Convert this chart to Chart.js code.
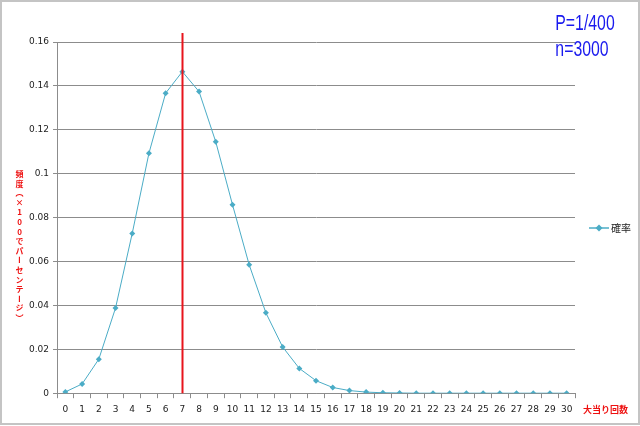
<!DOCTYPE html>
<html>
<head>
<meta charset="utf-8">
<script src="https://cdn.jsdelivr.net/npm/chart.js@4.4.1/dist/chart.umd.min.js"></script>
<style>
  html, body { margin: 0; padding: 0; background: #fff; }
  #wrap { width: 640px; height: 426px; position: relative; }
  #ytitle {
    position: absolute; left: 14px; top: 170px;
    writing-mode: vertical-rl; text-orientation: upright;
    font: bold 8px "Noto Sans CJK JP";
    color: #ee1111; letter-spacing: 1.6px; line-height: 10px;
  }
</style>
</head>
<body>
<div id="wrap"><canvas id="chart" width="640" height="426"></canvas><div id="ytitle"></div></div>
<script>
// Données
const categories = ['0','1','2','3','4','5','6','7','8','9','10','11','12','13','14','15',
  '16','17','18','19','20','21','22','23','24','25','26','27','28','29','30'];
const probValues = [0.0006, 0.0042, 0.0155, 0.0388, 0.0728, 0.1093, 0.1367, 0.1465,
  0.1374, 0.1145, 0.0859, 0.0585, 0.0366, 0.0211, 0.0113, 0.0057, 0.0026, 0.0012,
  0.0005, 0.0002, 0.0001, 0, 0, 0, 0, 0, 0, 0, 0, 0, 0];
const yTicks = [0, 0.02, 0.04, 0.06, 0.08, 0.1, 0.12, 0.14, 0.16];
const markerCategory = '7';
const seriesName = '確率';
const yTitle = '頻度（×100でパーセンテージ）';
const xTitle = '大当り回数';
const noteLines = ['P=1/400', 'n=3000'];

const lineColor = '#4bacc6';
const gridColor = '#8c8c8c';
const tickFont = { family: 'DejaVu Sans', size: 9 };

document.getElementById('ytitle').textContent = yTitle;

// Cadre, ligne rouge, titres et légende
const extras = {
  id: 'extras',
  beforeDraw(chart) {
    const c = chart.ctx;
    c.save();
    c.fillStyle = '#fff';
    c.fillRect(0, 0, chart.width, chart.height);
    c.strokeStyle = '#c4c4c4';
    c.lineWidth = 2;
    c.strokeRect(1, 1, chart.width - 2, chart.height - 3);
    c.restore();
  },
  afterDatasetsDraw(chart) {
    const c = chart.ctx;
    const xs = chart.scales.x;
    const area = chart.chartArea;
    c.save();
    // ligne verticale rouge
    const mx = Math.round(xs.getPixelForValue(categories.indexOf(markerCategory))) + 0.5;
    c.strokeStyle = '#e8141c';
    c.lineWidth = 2;
    c.beginPath();
    c.moveTo(mx, area.top - 9);
    c.lineTo(mx, area.bottom);
    c.stroke();
    c.restore();
  },
  afterDraw(chart) {
    const c = chart.ctx;
    const xs = chart.scales.x;
    const area = chart.chartArea;
    c.save();
    c.textBaseline = 'middle';
    // titre X
    c.fillStyle = '#ee1111';
    c.font = 'bold 9px "Noto Sans CJK JP"';
    c.textAlign = 'left';
    c.fillText(xTitle, xs.right + 8, area.bottom + 16);
    // note P / n (police étroite simulée)
    c.fillStyle = '#1a1aee';
    c.font = '22px "Liberation Sans"';
    c.textAlign = 'center';
    c.save();
    c.scale(0.72, 1);
    c.fillText(noteLines[0], 585 / 0.72, 24);
    c.fillText(noteLines[1], 582 / 0.72, 50);
    c.restore();
    // légende
    const ly = 228;
    c.strokeStyle = lineColor;
    c.lineWidth = 1.5;
    c.beginPath();
    c.moveTo(589, ly);
    c.lineTo(609, ly);
    c.stroke();
    c.fillStyle = lineColor;
    c.beginPath();
    c.moveTo(599, ly - 3.5);
    c.lineTo(602.5, ly);
    c.lineTo(599, ly + 3.5);
    c.lineTo(595.5, ly);
    c.closePath();
    c.fill();
    c.fillStyle = '#222';
    c.font = '10px "Noto Sans CJK JP"';
    c.textAlign = 'left';
    c.fillText(seriesName, 611, ly);
    c.restore();
  }
};

new Chart(document.getElementById('chart'), {
  type: 'line',
  data: {
    labels: categories,
    datasets: [{
      label: seriesName,
      data: probValues,
      borderColor: lineColor,
      backgroundColor: lineColor,
      borderWidth: 1,
      pointStyle: 'rectRot',
      pointRadius: 3,
      pointBorderWidth: 0,
      tension: 0
    }]
  },
  options: {
    responsive: false,
    animation: false,
    layout: { padding: { left: 25, right: 65, top: 42, bottom: 5 } },
    plugins: {
      legend: { display: false },
      tooltip: { enabled: false }
    },
    scales: {
      x: {
        offset: true,
        grid: { offset: true, drawOnChartArea: false, color: gridColor, tickLength: 5 },
        border: { color: gridColor },
        ticks: { font: tickFont, color: '#222', maxRotation: 0, autoSkip: false, padding: 6 }
      },
      y: {
        min: yTicks[0],
        max: yTicks[yTicks.length - 1],
        afterBuildTicks(scale) {
          scale.ticks = yTicks.map(v => ({ value: v }));
        },
        grid: { color: gridColor, tickLength: 4 },
        border: { color: gridColor },
        ticks: {
          font: tickFont,
          color: '#222',
          padding: 4,
          callback: v => String(+v.toFixed(2))
        }
      }
    }
  },
  plugins: [extras]
});
</script>
</body>
</html>
